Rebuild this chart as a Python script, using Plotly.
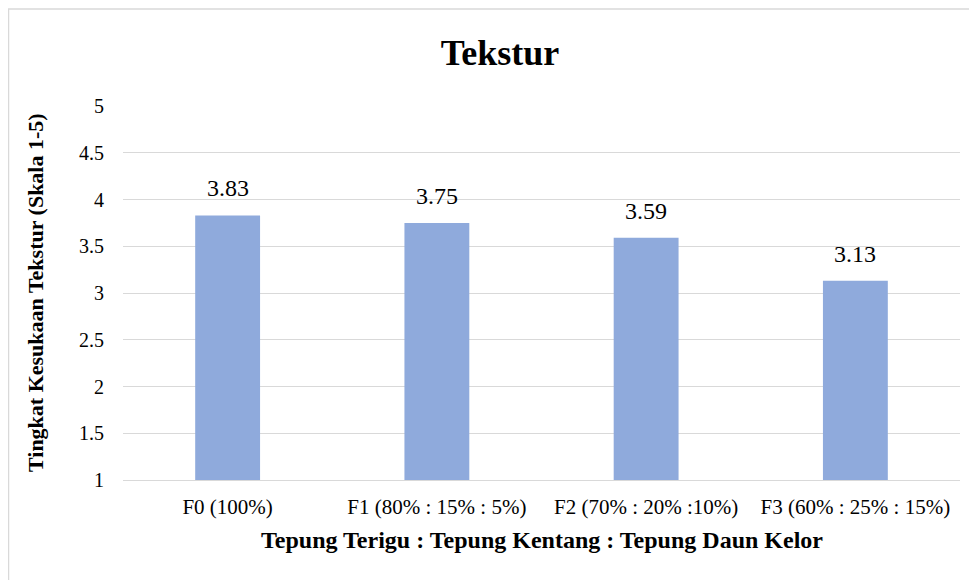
import plotly.graph_objects as go

categories = ["F0 (100%)", "F1 (80% : 15% : 5%)", "F2 (70% : 20% :10%)", "F3 (60% : 25% : 15%)"]
values = [3.83, 3.75, 3.59, 3.13]
value_labels = ["3.83", "3.75", "3.59", "3.13"]
y_ticks = [1, 1.5, 2, 2.5, 3, 3.5, 4, 4.5, 5]
y_tick_labels = ["1", "1.5", "2", "2.5", "3", "3.5", "4", "4.5", "5"]
axis_min = 1

FONT = "Liberation Serif, Times New Roman, serif"

fig = go.Figure()
fig.add_trace(go.Bar(
    x=categories, y=[v - axis_min for v in values], base=axis_min,
    marker=dict(color="#8FAADC", line=dict(width=0)),
    width=0.31, hoverinfo="skip",
))
for cat, val, lab in zip(categories, values, value_labels):
    fig.add_annotation(x=cat, y=val, text=lab, xref="x", yref="y",
                       xanchor="center", yanchor="bottom", yshift=12, showarrow=False,
                       font=dict(family=FONT, size=24, color="#000000"))

fig.update_layout(
    width=977, height=580,
    paper_bgcolor="white", plot_bgcolor="white",
    margin=dict(l=115, r=25, t=98, b=108),
    showlegend=False,
    title=dict(text="<b>Tekstur</b>", x=(492 - 115) / 837, xanchor="center", y=1 - 44 / 580, yanchor="middle",
               xref="paper", font=dict(family=FONT, size=36, color="#000000")),
    font=dict(family=FONT, color="#000000"),
)
fig.update_yaxes(
    range=[1, 5], tickvals=y_ticks, ticktext=y_tick_labels,
    showgrid=True, gridcolor="#d9d9d9", gridwidth=1, zeroline=False,
    showline=False, ticks="", ticklabelstandoff=18,
    tickfont=dict(family=FONT, size=20, color="#000000"),
)
fig.update_xaxes(
    showline=True, linecolor="#d9d9d9", linewidth=1, ticks="", ticklabelstandoff=8,
    tickfont=dict(family=FONT, size=21, color="#000000"),
)
fig.add_annotation(text="<b>Tingkat Kesukaan Tekstur (Skala 1-5)</b>", textangle=-90,
                   xref="paper", yref="paper", x=(27 - 115) / 837, y=0.5,
                   xanchor="center", yanchor="middle", showarrow=False,
                   font=dict(family=FONT, size=22, color="#000000"))
fig.add_annotation(text="<b>Tepung Terigu : Tepung Kentang : Tepung Daun Kelor</b>",
                   xref="paper", yref="paper", x=0.5, y=(472 - 532) / 374,
                   xanchor="center", yanchor="middle", showarrow=False,
                   font=dict(family=FONT, size=24, color="#000000"))
fig.add_shape(type="rect", xref="paper", yref="paper",
              x0=(0.5 - 115) / 837, x1=1.05, y0=-0.35, y1=(472 - 1) / 374,
              line=dict(color="#d9d9d9", width=1.5), fillcolor="rgba(0,0,0,0)", layer="below")

fig.write_html("out.html")
